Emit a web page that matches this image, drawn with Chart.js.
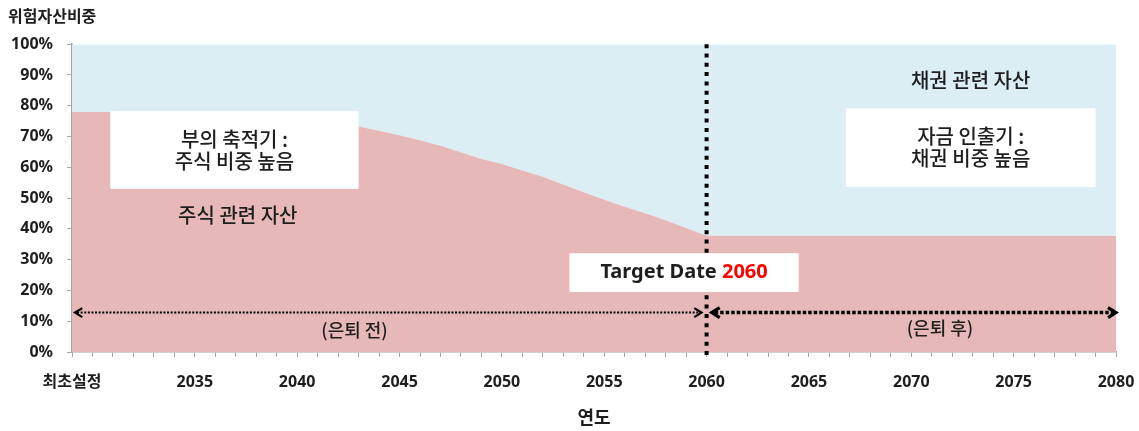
<!DOCTYPE html>
<html><head><meta charset="utf-8">
<script src="https://cdn.jsdelivr.net/npm/chart.js@4"></script>
<style>html,body{margin:0;padding:0;background:#fff;}#wrap{width:1139px;height:431px;position:relative;}</style>
</head><body><div id="wrap"><canvas id="c"></canvas></div>
<script>
const categories = ['최초설정','2030','2031','2032','2033','2034','2035','2036','2037','2038','2039',
  '2040','2041','2042','2043','2044','2045','2046','2047','2048','2049',
  '2050','2051','2052','2053','2054','2055','2056','2057','2058','2059',
  '2060','2061','2062','2063','2064','2065','2066','2067','2068','2069',
  '2070','2071','2072','2073','2074','2075','2076','2077','2078','2079','2080'];
const stockShare = [78,78,78,78,78,78,78,78,78,78,77.6,
  77,76,74.6,73.3,71.9,70.4,68.8,67.0,64.9,62.7,
  61.1,59.0,56.9,54.4,51.9,49.5,47.2,45.1,42.8,40.3,
  37.8,37.8,37.8,37.8,37.8,37.8,37.8,37.8,37.8,37.8,
  37.8,37.8,37.8,37.8,37.8,37.8,37.8,37.8,37.8,37.8,37.8];
const bondShare = [22,22,22,22,22,22,22,22,22,22,22.4,
  23,24,25.4,26.7,28.1,29.6,31.2,33.0,35.1,37.3,
  38.9,41.0,43.1,45.6,48.1,50.5,52.8,54.9,57.2,59.7,
  62.2,62.2,62.2,62.2,62.2,62.2,62.2,62.2,62.2,62.2,
  62.2,62.2,62.2,62.2,62.2,62.2,62.2,62.2,62.2,62.2,62.2];
const yTicks = [0,10,20,30,40,50,60,70,80,90,100];
const targetIndex = categories.indexOf('2060');

const FONT = '"Noto Sans", "Noto Sans CJK KR", sans-serif';
const KFONT = '"Noto Sans CJK KR", "Noto Sans", sans-serif';

// annotation layout (data coordinates: x = category index, y = %)
const noteBoxes = [
  {x0:1.87, x1:14.0, y0:78.3, y1:53.0, lines:['부의 축적기 :','주식 비중 높음']},
  {x0:37.8, x1:50.0, y0:79.2, y1:53.6, lines:['자금 인출기 :','채권 비중 높음']}
];
const noteTexts = [
  {x:8.1, y:44.5, text:'주식 관련 자산', size:20},
  {x:43.9, y:88.3, text:'채권 관련 자산', size:20},
  {x:13.8, y:7.2, text:'(은퇴 전)', size:18},
  {x:42.4, y:7.8, text:'(은퇴 후)', size:18}
];
const targetBox = {x0:24.3, x1:35.5, y0:32.1, y1:19.5, label:'Target Date ', year:'2060'};
const arrowY = 12.8;

function drawArrowHead(ctx, x, y, dir, size, lw) {
  ctx.save();
  ctx.setLineDash([]);
  ctx.lineWidth = lw;
  ctx.strokeStyle = '#000';
  ctx.lineJoin = 'miter';
  ctx.beginPath();
  ctx.moveTo(x + dir * size * 1.6, y - size);
  ctx.lineTo(x, y);
  ctx.lineTo(x + dir * size * 1.6, y + size);
  ctx.stroke();
  ctx.restore();
}

const annot = {
  id: 'annot',
  afterDatasetsDraw(chart) {
    const ctx = chart.ctx, xs = chart.scales.x, ys = chart.scales.y;
    const ca = chart.chartArea;
    ctx.save();
    noteBoxes.forEach(b => {
      const l = xs.getPixelForValue(b.x0), r = xs.getPixelForValue(b.x1);
      const t = ys.getPixelForValue(b.y0), bt = ys.getPixelForValue(b.y1);
      ctx.fillStyle = '#fff';
      ctx.fillRect(l, t, r - l, bt - t);
      ctx.fillStyle = '#1e1e1e';
      ctx.font = '500 20px ' + KFONT;
      ctx.textAlign = 'center';
      ctx.textBaseline = 'middle';
      const cx = (l + r) / 2, cy = (t + bt) / 2;
      const lh = 22;
      b.lines.forEach((s, i) => {
        ctx.fillText(s, cx, cy + (i - (b.lines.length - 1) / 2) * lh);
      });
    });
    noteTexts.forEach(n => {
      ctx.fillStyle = '#1e1e1e';
      ctx.font = '500 ' + n.size + 'px ' + KFONT;
      ctx.textAlign = 'center';
      ctx.textBaseline = 'middle';
      ctx.fillText(n.text, xs.getPixelForValue(n.x), ys.getPixelForValue(n.y));
    });
    const tx = xs.getPixelForValue(targetIndex);
    ctx.strokeStyle = '#000';
    ctx.lineWidth = 4;
    ctx.setLineDash([4, 5.3]);
    ctx.beginPath();
    ctx.moveTo(tx, ca.top);
    ctx.lineTo(tx, ca.bottom + 6);
    ctx.stroke();
    const ay = ys.getPixelForValue(arrowY);
    const lx0 = xs.getPixelForValue(0.15), lx1 = xs.getPixelForValue(targetIndex - 0.25);
    ctx.lineWidth = 2;
    ctx.setLineDash([2, 1.6]);
    ctx.beginPath(); ctx.moveTo(lx0 + 2, ay); ctx.lineTo(lx1 - 2, ay); ctx.stroke();
    drawArrowHead(ctx, lx0, ay, 1, 4.5, 2.2);
    drawArrowHead(ctx, lx1, ay, -1, 4.5, 2.2);
    const rx0 = xs.getPixelForValue(targetIndex + 0.25), rx1 = xs.getPixelForValue(categories.length - 1);
    ctx.lineWidth = 3.5;
    ctx.setLineDash([3.5, 2]);
    ctx.beginPath(); ctx.moveTo(rx0 + 3, ay); ctx.lineTo(rx1 - 3, ay); ctx.stroke();
    drawArrowHead(ctx, rx0, ay, 1, 5, 3.2);
    drawArrowHead(ctx, rx1, ay, -1, 5, 3.2);
    ctx.setLineDash([]);
    const bl = xs.getPixelForValue(targetBox.x0), br = xs.getPixelForValue(targetBox.x1);
    const bt = ys.getPixelForValue(targetBox.y0), bb = ys.getPixelForValue(targetBox.y1);
    ctx.fillStyle = '#fff';
    ctx.fillRect(bl, bt, br - bl, bb - bt);
    ctx.font = 'bold 20px ' + FONT;
    ctx.textBaseline = 'middle';
    ctx.textAlign = 'left';
    const w1 = ctx.measureText(targetBox.label).width, w2 = ctx.measureText(targetBox.year).width;
    const sx = (bl + br) / 2 - (w1 + w2) / 2, sy = (bt + bb) / 2;
    ctx.fillStyle = '#1e1e1e';
    ctx.fillText(targetBox.label, sx, sy);
    ctx.fillStyle = '#ff0000';
    ctx.fillText(targetBox.year, sx + w1, sy);
    ctx.restore();
  }
};

new Chart(document.getElementById('c'), {
  type: 'line',
  data: {
    labels: categories,
    datasets: [
      {label:'주식 관련 자산', data: stockShare, fill:'origin', backgroundColor:'#E6B9B8',
       borderWidth:0, borderColor:'rgba(0,0,0,0)', pointRadius:0, tension:0, stack:'s'},
      {label:'채권 관련 자산', data: bondShare, fill:'-1', backgroundColor:'#DAEEF3',
       borderWidth:0, borderColor:'rgba(0,0,0,0)', pointRadius:0, tension:0, stack:'s'}
    ]
  },
  options: {
    responsive: true,
    maintainAspectRatio: false,
    animation: false,
    layout: {padding: {left: 8, right: 23, top: 0, bottom: 3}},
    plugins: {
      legend: {display: false},
      tooltip: {enabled: false},
      title: {display: true, text: '위험자산비중', align: 'start', color: '#1e1e1e',
        font: {family: KFONT, size: 16, weight: 'bold'}, padding: {top: 6, bottom: 19}}
    },
    scales: {
      x: {
        type: 'category',
        offset: false,
        grid: {display: true, drawOnChartArea: false, drawTicks: true, tickLength: 5, color: '#a6a6a6'},
        border: {display: true, color: '#a6a6a6', width: 1.5},
        ticks: {
          autoSkip: false, maxRotation: 0, minRotation: 0, padding: 16, color: '#1e1e1e',
          font: {family: FONT, size: 16, weight: 'bold'},
          callback: function(v, i) {
            const lab = this.getLabelForValue(v);
            if (i === 0) return lab;
            const yr = parseInt(lab, 10);
            return (yr % 5 === 0 && yr >= 2035) ? lab : '';
          }
        },
        title: {display: true, text: '연도', color: '#1e1e1e',
          font: {family: KFONT, size: 18, weight: 'bold'}, padding: {top: 0, bottom: 0}},
        afterFit: s => { s.height = 76; s.paddingLeft = 0; s.paddingRight = 0; }
      },
      y: {
        stacked: true,
        min: 0, max: 100,
        afterBuildTicks: s => { s.ticks = yTicks.map(v => ({value: v})); },
        grid: {display: true, drawOnChartArea: false, drawTicks: true, tickLength: 5, color: '#a6a6a6'},
        border: {display: true, color: '#a6a6a6', width: 1.5},
        ticks: {padding: 14, color: '#1e1e1e', font: {family: FONT, size: 16, weight: 'bold'},
          callback: v => v + '%'},
        afterFit: s => { s.width = 64; s.paddingTop = 0; s.paddingBottom = 0; }
      }
    }
  },
  plugins: [annot]
});
</script>
</body></html>
